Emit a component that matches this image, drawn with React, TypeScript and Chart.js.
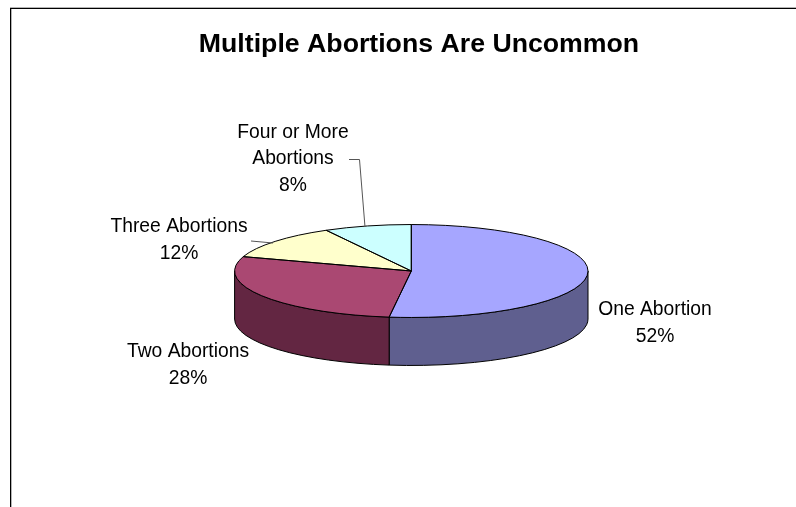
import React, { useEffect, useRef } from "react";
import { Chart, registerables } from "chart.js";

Chart.register(...registerables);

const titleText = "Multiple Abortions Are Uncommon";
const categories = ["One Abortion", "Two Abortions", "Three Abortions", "Four or More Abortions"];
const shares = [52, 28, 12, 8];
const labelLines = [["One Abortion"], ["Two Abortions"], ["Three Abortions"], ["Four or More", "Abortions"]];
const topColors = ["#A6A6FF", "#AA4872", "#FFFFCC", "#CCFFFF"];
const wallColors = ["#5F5F8F", "#632642", "#8F8F73", "#738F8F"];

// Horizontal centre and first-line baseline of each slice's caption.
const labelAnchors = [
  { x: 655, y: 315 },
  { x: 188, y: 357 },
  { x: 179, y: 232 },
  { x: 293, y: 137.5 },
];
const labelLineGap = 26.5;

// Thin connector lines from captions to their slices.
const leaders = [
  { slice: 2, points: [[251, 241], [273, 243]] },
  { slice: 3, points: [[349, 159.5], [359.5, 159.5], [365, 227]] },
];

const FLATTEN = 0.263;
const DEPTH = 48;
const FONT = '"Liberation Sans", Arial, sans-serif';

const firstArc = (chart: any) => chart.getDatasetMeta(0).data;

// Tilts the pie: the side wall goes down first, then the library's arcs are
// painted through a vertical squash around the pie centre.
const tiltPlugin = {
  id: "tilt",
  beforeDraw(chart: any) {
    const { ctx } = chart;
    ctx.save();
    ctx.fillStyle = "#000000";
    ctx.fillRect(10, 8, 786, 1);
    ctx.fillRect(10, 8, 1, 499);
    ctx.fillStyle = "#B4B4B4";
    ctx.fillRect(10, 7, 786, 1);
    ctx.fillRect(11, 9, 1, 498);
    ctx.restore();
  },
  beforeDatasetsDraw(chart: any) {
    const { ctx } = chart;
    const arcs = firstArc(chart);
    ctx.save();
    ctx.lineWidth = 1;
    ctx.strokeStyle = "#000000";
    arcs.forEach((arc: any, i: number) => {
      const { x, y, outerRadius, startAngle, endAngle } = arc.getProps(["x", "y", "outerRadius", "startAngle", "endAngle"]);
      const from = Math.max(startAngle, 0);
      const to = Math.min(endAngle, Math.PI);
      if (to <= from) return;
      const ry = outerRadius * FLATTEN;
      ctx.beginPath();
      ctx.ellipse(x, y, outerRadius, ry, 0, from, to);
      ctx.lineTo(x + outerRadius * Math.cos(to), y + ry * Math.sin(to) + DEPTH);
      ctx.ellipse(x, y + DEPTH, outerRadius, ry, 0, to, from, true);
      ctx.closePath();
      ctx.fillStyle = wallColors[i];
      ctx.fill();
      ctx.stroke();
    });
    ctx.restore();
    const { x, y } = arcs[0].getProps(["x", "y"]);
    ctx.save();
    ctx.translate(x, y);
    ctx.scale(1, FLATTEN);
    ctx.translate(-x, -y);
  },
  afterDatasetsDraw(chart: any) {
    const { ctx } = chart;
    ctx.restore();
    const arcs = firstArc(chart);
    ctx.save();
    ctx.lineWidth = 1;
    ctx.strokeStyle = "#000000";
    arcs.forEach((arc: any) => {
      const { x, y, outerRadius, startAngle, endAngle } = arc.getProps(["x", "y", "outerRadius", "startAngle", "endAngle"]);
      ctx.beginPath();
      ctx.moveTo(x, y);
      ctx.ellipse(x, y, outerRadius, outerRadius * FLATTEN, 0, startAngle, endAngle);
      ctx.closePath();
      ctx.stroke();
    });
    ctx.restore();
  },
  afterDraw(chart: any) {
    const { ctx } = chart;
    ctx.save();
    ctx.fillStyle = "#000000";
    ctx.textAlign = "center";
    ctx.textBaseline = "alphabetic";
    ctx.font = `bold 26.7px ${FONT}`;
    ctx.fillText(titleText, 419, 52);

    ctx.strokeStyle = "#555555";
    ctx.lineWidth = 1;
    leaders.forEach(({ points }) => {
      ctx.beginPath();
      points.forEach(([px, py], k) => (k ? ctx.lineTo(px, py) : ctx.moveTo(px, py)));
      ctx.stroke();
    });

    ctx.fillStyle = "#000000";
    ctx.font = `19.3px ${FONT}`;
    const values = chart.data.datasets[0].data;
    categories.forEach((_, i) => {
      const lines = [...labelLines[i], `${values[i]}%`];
      const anchor = labelAnchors[i];
      lines.forEach((line, k) => {
        ctx.fillText(line, anchor.x, anchor.y + k * labelLineGap);
      });
    });
    ctx.restore();
  },
};

export default function App() {
  const canvasRef = useRef<HTMLCanvasElement | null>(null);

  useEffect(() => {
    if (!canvasRef.current) return;
    const chart = new Chart(canvasRef.current, {
      type: "pie",
      data: {
        labels: categories,
        datasets: [
          {
            data: shares,
            backgroundColor: topColors,
            borderWidth: 0,
          },
        ],
      },
      options: {
        responsive: false,
        animation: false,
        layout: { padding: { left: 234.6, right: 208, top: 94.3, bottom: 59.3 } },
        plugins: {
          legend: { display: false },
          title: { display: false },
          tooltip: { enabled: false },
        },
      },
      plugins: [tiltPlugin],
    });
    return () => chart.destroy();
  }, []);

  return (
    <div style={{ position: "fixed", left: 0, top: 0, width: 796, height: 507, background: "#ffffff" }}>
      <canvas ref={canvasRef} width={796} height={507} style={{ display: "block" }} />
    </div>
  );
}
